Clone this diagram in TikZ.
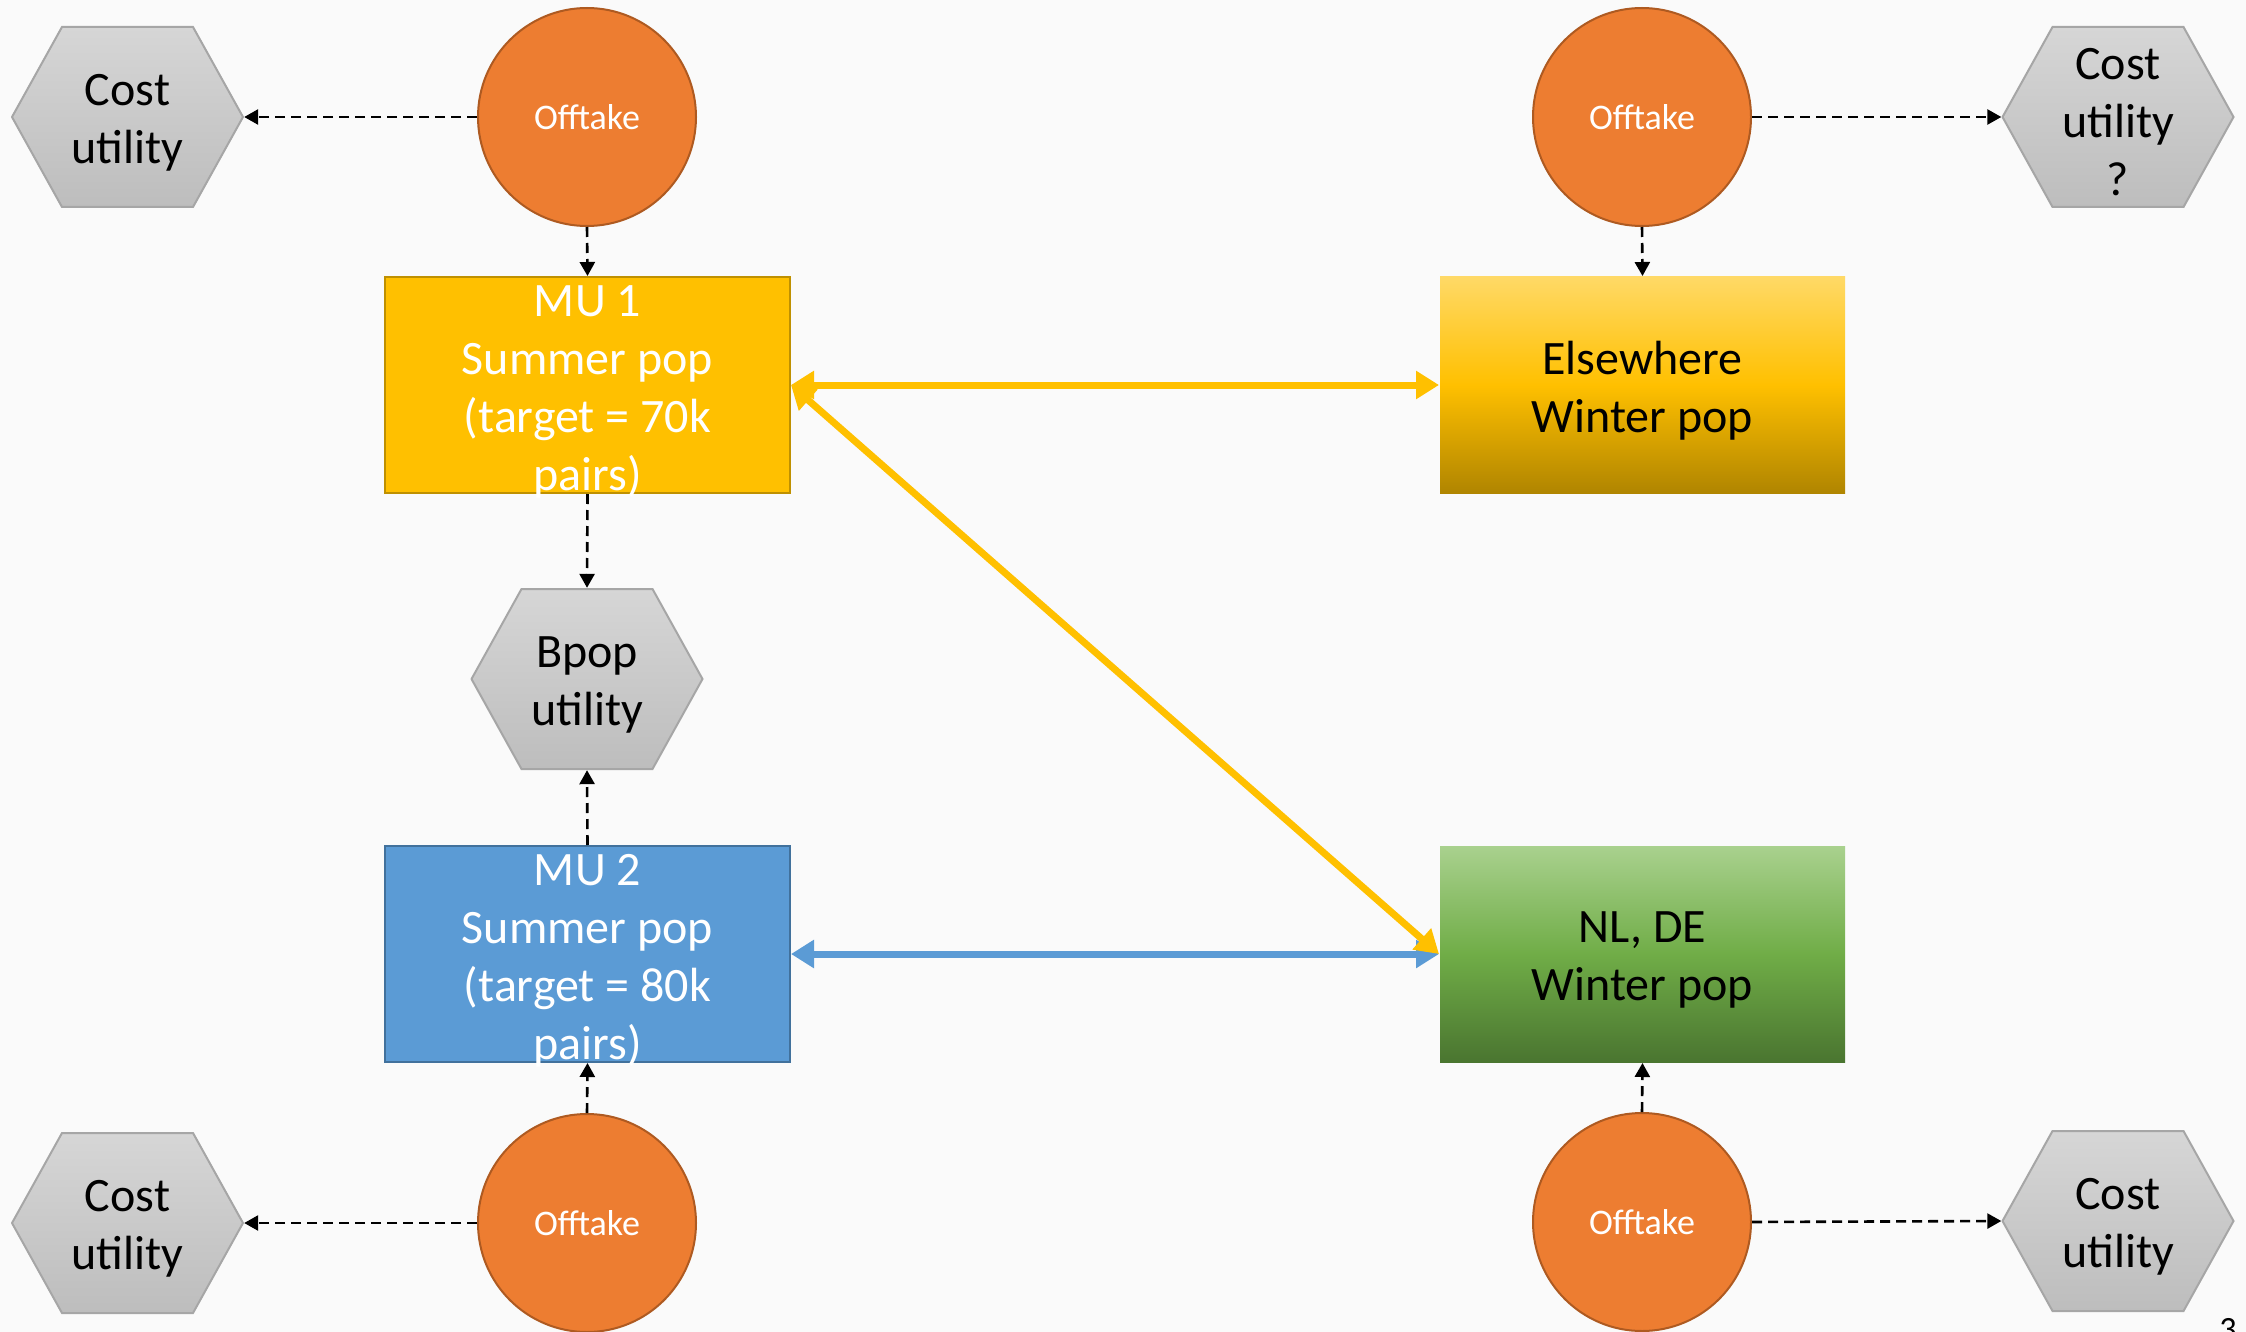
\documentclass[tikz,border=0pt]{standalone}
\usepackage{fontspec}
\setmainfont{Carlito}
\usetikzlibrary{arrows.meta}
\definecolor{bgc}{HTML}{FAFAFA}
\definecolor{offfill}{HTML}{ED7D31}
\definecolor{offdraw}{HTML}{AE5A21}
\definecolor{gold}{HTML}{FFC000}
\definecolor{golddraw}{HTML}{BF9000}
\definecolor{goldtop}{HTML}{FFD966}
\definecolor{goldbot}{HTML}{B08500}
\definecolor{bluef}{HTML}{5B9BD5}
\definecolor{bluedraw}{HTML}{41719C}
\definecolor{greentop}{HTML}{A9D18E}
\definecolor{greenmid}{HTML}{70AD47}
\definecolor{greenbot}{HTML}{4A7530}
\definecolor{hextop}{HTML}{D6D6D6}
\definecolor{hexbot}{HTML}{BDBDBD}
\definecolor{hexdraw}{HTML}{A6A6A6}
\tikzset{
  x=1pt, y=-1pt,
  bigfont/.style={font=\fontsize{48}{58}\selectfont},
  hexnode/.style={rectangle, draw=none, minimum width=233pt, minimum height=182pt,
    inner sep=0pt,
    path picture={
      \path (path picture bounding box.west) coordinate (hw)
            (path picture bounding box.east) coordinate (he)
            (path picture bounding box.north west) coordinate (hnw)
            (path picture bounding box.south east) coordinate (hse);
      \shade[top color=hextop, bottom color=hexbot, draw=hexdraw, line width=2pt]
        ([xshift=1pt]hw) -- ([xshift=51pt,yshift=-1pt]hnw) -- ([xshift=182pt,yshift=-1pt]hnw)
        -- ([xshift=-1pt]he) -- ([xshift=-51pt,yshift=1pt]hse) -- ([xshift=-182pt,yshift=1pt]hse) -- cycle;
    }},
  offnode/.style={circle, fill=offfill, draw=offdraw, line width=2pt, minimum size=218pt,
    inner sep=0pt, text=white, font=\fontsize{36}{44}\selectfont},
  boxnode/.style={rectangle, minimum width=405pt, minimum height=216pt, inner sep=0pt, line width=2pt},
  boxtext/.style={align=center, bigfont, inner sep=0pt},
  dasharrow/.style={draw=black, line width=2.6pt, dash pattern=on 10pt off 6pt,
    -{Triangle[length=14pt,width=15pt]}},
  flowarrow/.style={line width=7pt, {Triangle[length=23pt,width=27pt]}-{Triangle[length=23pt,width=27pt]}},
}
\begin{document}
\begin{tikzpicture}
\clip (0,0) rectangle (2246,1332);
\fill[bgc] (0,0) rectangle (2246,1332);

% hexagons
\node[hexnode] (hexTL) at (127.5,117) {};
\node[boxtext] at ([yshift=-6pt]hexTL.center) {Cost\\utility};
\node[hexnode] (hexBL) at (127.5,1223) {};
\node[boxtext] at ([yshift=-6pt]hexBL.center) {Cost\\utility};
\node[hexnode] (hexTR) at (2118,117) {};
\node[boxtext] at ([yshift=-5pt]hexTR.center) {Cost\\utility\\?};
\node[hexnode] (hexBR) at (2118,1221) {};
\node[boxtext] at ([yshift=-6pt]hexBR.center) {Cost\\utility};
\node[hexnode] (bpop) at (587,679) {};
\node[boxtext] at ([yshift=-6pt]bpop.center) {Bpop\\utility};

% offtake circles
\node[offnode] (offTL) at (587,117) {Offtake};
\node[offnode] (offBL) at (587,1223) {Offtake};
\node[offnode] (offTR) at (1642,117) {Offtake};
\node[offnode] (offBR) at (1642,1222) {Offtake};

% boxes
\node[boxnode, fill=gold, draw=golddraw] (mu1) at (587.5,385) {};
\node[boxtext, text=white] at ([yshift=-7pt]mu1.center) {MU 1\\Summer pop\\(target = 70k\\pairs)};
\node[boxnode, fill=bluef, draw=bluedraw] (mu2) at (587.5,954) {};
\node[boxtext, text=white] at ([yshift=-7pt]mu2.center) {MU 2\\Summer pop\\(target = 80k\\pairs)};
\node[boxnode, top color=goldtop, bottom color=goldbot, middle color=gold] (else) at (1642.5,385) {};
\node[boxtext, text=black] at ([yshift=-6pt]else.center) {Elsewhere\\Winter pop};
\node[boxnode, top color=greentop, bottom color=greenbot, middle color=greenmid] (nlde) at (1642.5,954) {};
\node[boxtext, text=black] at ([yshift=-6pt]nlde.center) {NL, DE\\Winter pop};

% dashed connectors
\draw[dasharrow] (offTL.west) -- (hexTL.east);
\draw[dasharrow] (offTL.south) -- (mu1.north);
\draw[dasharrow] (mu1.south) -- (bpop.north);
\draw[dasharrow] (mu2.north) -- (bpop.south);
\draw[dasharrow] (offBL.north) -- (mu2.south);
\draw[dasharrow] (offBL.west) -- (hexBL.east);
\draw[dasharrow] (offTR.south) -- (else.north);
\draw[dasharrow] (offTR.east) -- (hexTR.west);
\draw[dasharrow] (offBR.north) -- (nlde.south);
\draw[dasharrow] (offBR.east) -- (hexBR.west);

% flow arrows
\draw[flowarrow, draw=bluef] (mu2.east) -- (nlde.west);
\draw[flowarrow, draw=gold] (mu1.east) -- (else.west);
\draw[flowarrow, draw=gold] (mu1.east) -- (nlde.west);

% page number
\node[anchor=base, inner sep=0pt, font=\fontsize{34}{40}\selectfont] (pgnum) at (2228,1340) {3};
\end{tikzpicture}
\end{document}
